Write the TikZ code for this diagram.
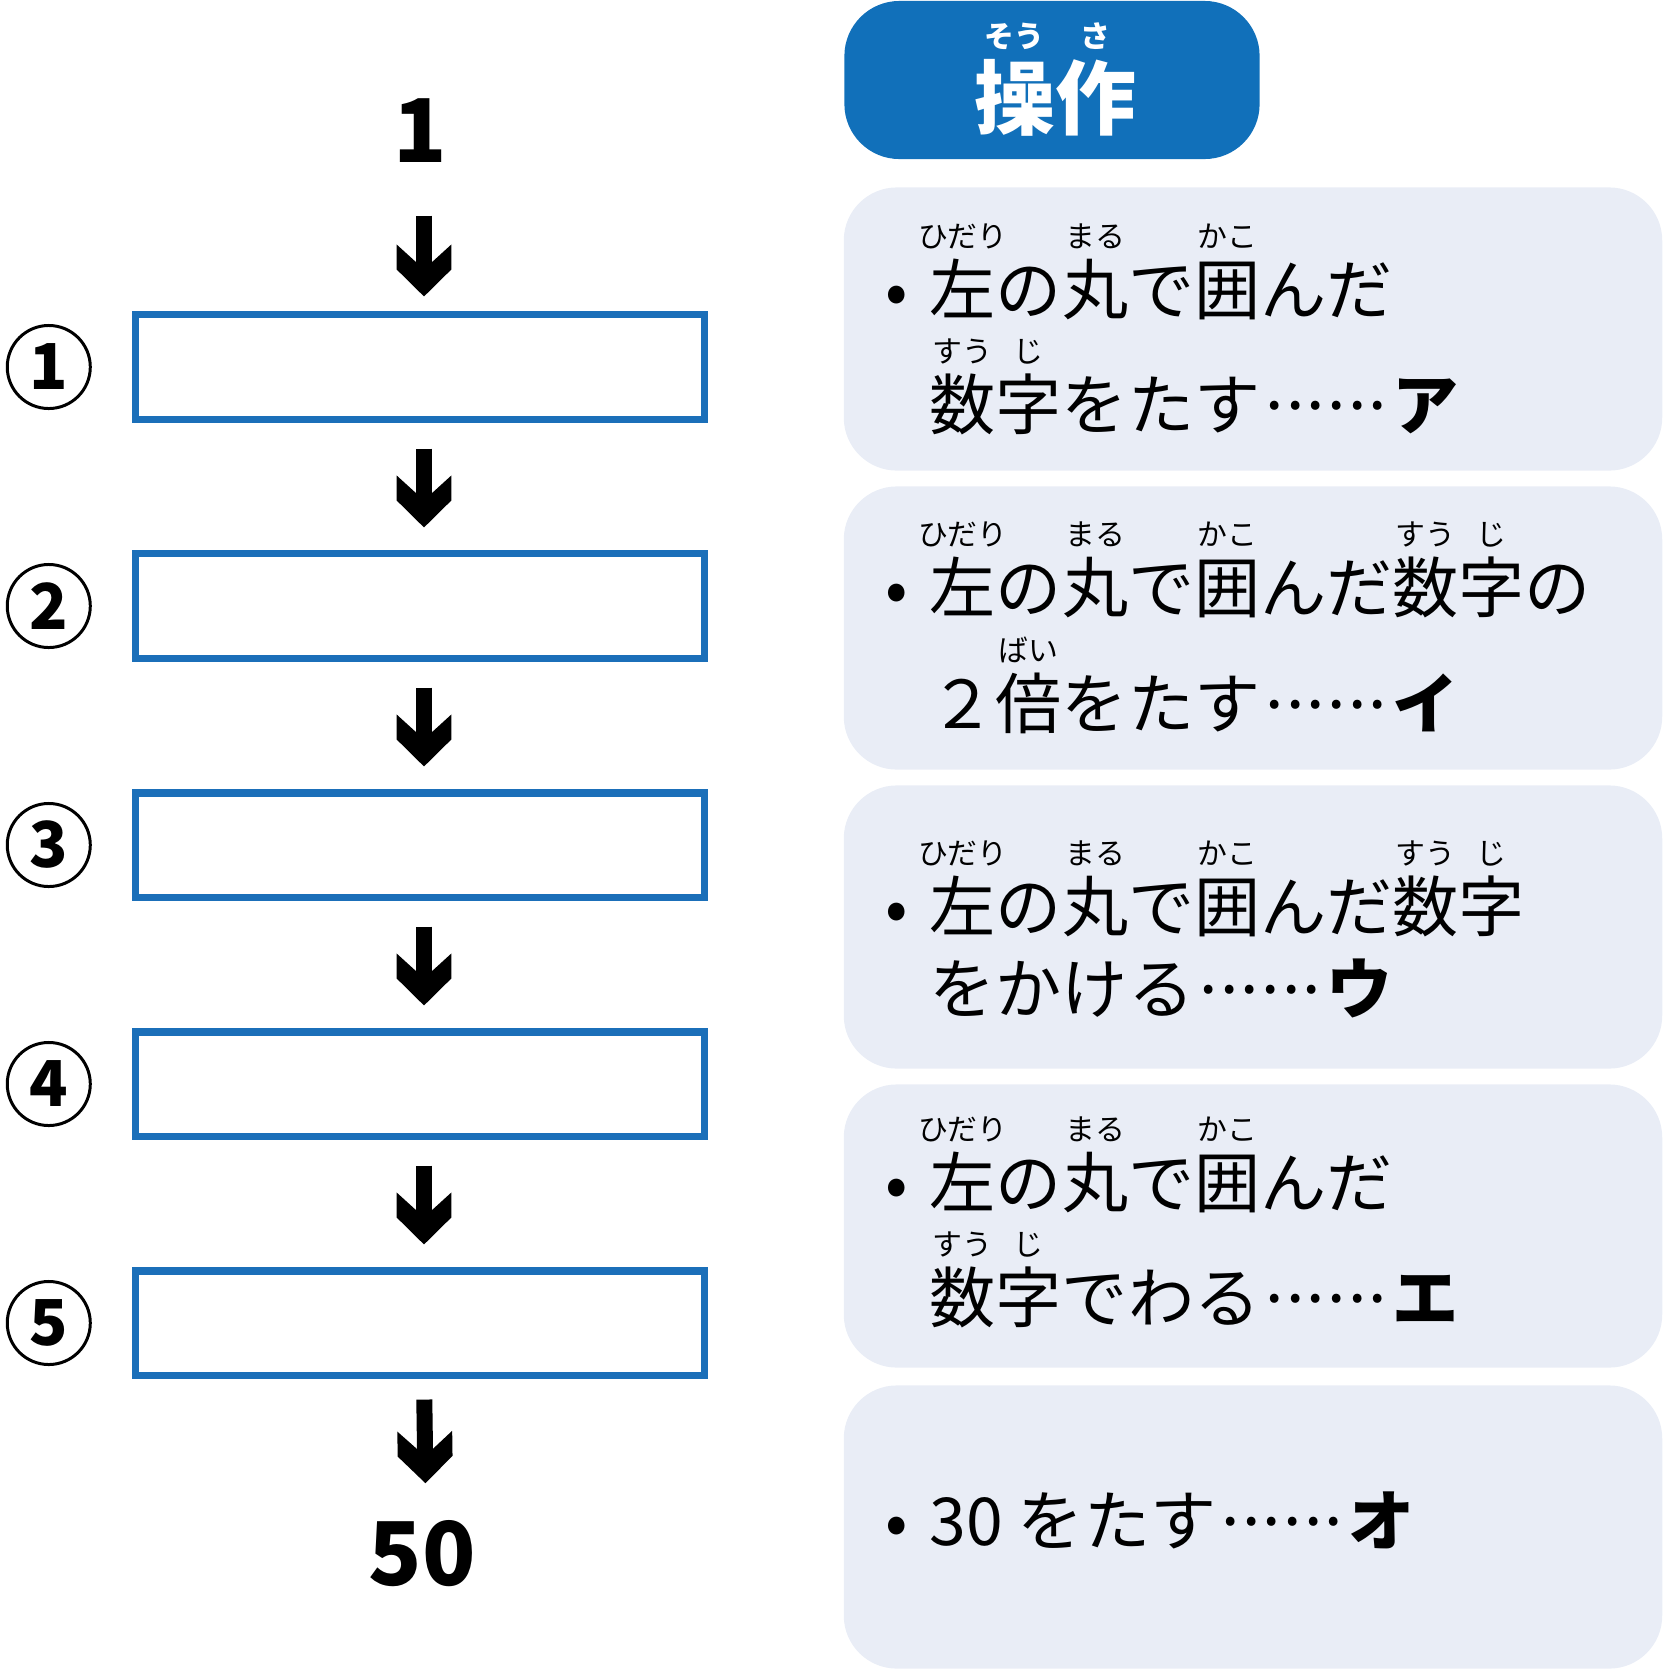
\documentclass[tikz,border=0pt]{standalone}
\usepackage{fontspec}
\setmainfont{Noto Sans CJK JP}
\usetikzlibrary{positioning,arrows.meta}

\definecolor{hdblue}{HTML}{1170BA}
\definecolor{boxblue}{HTML}{1B6FB9}
\definecolor{opgray}{HTML}{E9EDF6}

% furigana over a kanji
\newsavebox\rbbox
\newcommand{\rubyfnt}{\fontsize{8.5}{10}\selectfont}
\newcommand{\rb}[2]{\sbox\rbbox{#1}\makebox[\wd\rbbox]{\smash{\raisebox{1em}{\makebox[0pt]{\rubyfnt #2}}}}\hspace{-\wd\rbbox}\usebox\rbbox}
\newcommand{\dotb}{\makebox[1em]{•}}
% centred leader dots, two em wide
\newcommand{\leadots}{\raisebox{0.3em}{\makebox[2em][s]{\hspace{0.08em}.\hfill.\hfill.\hfill.\hfill.\hfill.\hspace{0.08em}}}}

% thick chevron head
\pgfdeclarearrow{
  name = Chev,
  setup code = {
    \pgfarrowssettipend{0pt}
    \pgfarrowssetlineend{-6pt}
    \pgfarrowssetbackend{-14.8pt}
    \pgfarrowsupperhullpoint{-14.8pt}{7.8pt}
    \pgfarrowsupperhullpoint{-7.7pt}{7.8pt}
    \pgfarrowshullpoint{0pt}{0pt}
  },
  drawing code = {
    \pgfpathmoveto{\pgfqpoint{0pt}{0pt}}
    \pgfpathlineto{\pgfqpoint{-7.7pt}{7.8pt}}
    \pgfpathlineto{\pgfqpoint{-14.8pt}{7.8pt}}
    \pgfpathlineto{\pgfqpoint{-7.7pt}{0pt}}
    \pgfpathlineto{\pgfqpoint{-14.8pt}{-7.8pt}}
    \pgfpathlineto{\pgfqpoint{-7.7pt}{-7.8pt}}
    \pgfpathclose
    \pgfusepathqfill
  }
}

\tikzset{
  inbox/.style={draw=boxblue, line width=2pt, minimum width=5.69cm, minimum height=1.04cm, inner sep=0pt},
  circnum/.style={circle, draw, line width=0.85pt, minimum size=0.83cm, inner sep=0pt, font=\fontsize{18}{18}\selectfont\bfseries},
  bignum/.style={inner sep=0pt, anchor=base, font=\fontsize{25}{25}\selectfont\bfseries},
  flowarr/.style={line width=4.55pt, -{Chev}},
  opbox/.style={fill=opgray, rounded corners=0.53cm, minimum width=8.18cm, minimum height=2.83cm, inner sep=0pt},
  optxt/.style={inner sep=0pt, anchor=base west, font=\fontsize{18.8}{22}\selectfont},
  headbox/.style={fill=hdblue, rounded corners=0.55cm, minimum width=4.15cm, minimum height=1.58cm, inner sep=0pt},
}

\begin{document}
\begin{tikzpicture}[x=0.01cm, y=-0.01cm]
  \useasboundingbox (0,0) rectangle (1663,1672);

  % left column
  \node[bignum] (start) at (420,162) {1};
  \foreach \i/\y in {1/367,2/606,3/845,4/1084,5/1323} {
    \node[inbox] (b\i) at (420,\y) {};
    \node[circnum, left=0.40cm of b\i] (c\i) {\i};
  }
  \node[bignum] (goal) at (422,1585) {50};

  \draw[flowarr, shorten <=0.53cm, shorten >=0.15cm] ([xshift=0.04cm]start.south) -- ([xshift=0.04cm]b1.north);
  \foreach \i/\j in {1/2,2/3,3/4,4/5}
    \draw[flowarr, shorten <=0.26cm, shorten >=0.23cm] ([xshift=0.04cm]b\i.south) -- ([xshift=0.04cm]b\j.north);
  \draw[flowarr, shorten <=0.21cm, shorten >=0.36cm] ([xshift=0.04cm]b5.south) -- ([xshift=0.04cm]goal.north);

  % right column
  \node[headbox] (head) at (1052,80) {};
  \node[inner sep=0pt, text=white, font=\fontsize{23}{23}\selectfont\bfseries] (headtxt) at (1055,98) {\rb{操}{そう}\rb{作}{さ}};

  \foreach \k/\y in {1/329,2/628,3/927,4/1226,5/1527}
    \node[opbox] (op\k) at (1253,\y) {};

  \path (863,314) node[optxt] (op1a) {\dotb\rb{左}{ひだり}の\rb{丸}{まる}で\rb{囲}{かこ}んだ}
    ++(66,115) node[optxt] (op1b) {\rb{数}{すう}\rb{字}{じ}をたす\leadots{\bfseries ア}};
  \path (863,612) node[optxt] (op2a) {\dotb\rb{左}{ひだり}の\rb{丸}{まる}で\rb{囲}{かこ}んだ\rb{数}{すう}\rb{字}{じ}の}
    ++(66,116) node[optxt] (op2b) {２\rb{倍}{ばい}をたす\leadots{\bfseries イ}};
  \path (863,931) node[optxt] (op3a) {\dotb\rb{左}{ひだり}の\rb{丸}{まる}で\rb{囲}{かこ}んだ\rb{数}{すう}\rb{字}{じ}}
    ++(66,82) node[optxt] (op3b) {をかける\leadots{\bfseries ウ}};
  \path (863,1207) node[optxt] (op4a) {\dotb\rb{左}{ひだり}の\rb{丸}{まる}で\rb{囲}{かこ}んだ}
    ++(66,115) node[optxt] (op4b) {\rb{数}{すう}\rb{字}{じ}でわる\leadots{\bfseries エ}};
  \node[optxt] (op5a) at (863,1545) {\dotb 30 をたす\leadots{\bfseries オ}};
\end{tikzpicture}
\end{document}
